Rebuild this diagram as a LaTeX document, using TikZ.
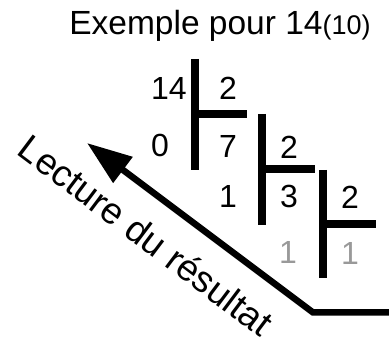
\documentclass[tikz,border=0pt]{standalone}
\usepackage{fontspec}
\setmainfont{Liberation Sans}
\usetikzlibrary{arrows.meta}

\begin{document}
\begin{tikzpicture}[
        x=1pt, y=-1pt,
        digit/.style={inner sep=0pt, font=\fontsize{32}{32}\selectfont},
        rest/.style={digit, text=black!40},
        bar/.style={line width=8pt},
        reading/.style={line width=6.5pt, -{Triangle[length=45pt,width=31pt]}},
    ]
        \useasboundingbox (0,0) rectangle (389,347);

        % title
        \node[anchor=base, inner sep=0pt, font=\fontsize{33.5}{33.5}\selectfont] (title) at (220,35)
            {Exemple pour 14{\fontsize{27}{27}\selectfont(10)}};

        % first division
        \node[digit] (num14) at (169,88) {14};
        \node[digit] (div1) at (228,88) {2};
        \node[digit] (rest0) at (160,145) {0};
        \node[digit] (quot7) at (228,146) {7};
        \draw[bar] (195,59) -- (195,170);
        \draw[bar] (195,114.5) -- (247,114.5);

        % second division
        \node[digit] (div2) at (289,147) {2};
        \node[digit] (rest1) at (228,196) {1};
        \node[digit] (quot3) at (289,196) {3};
        \draw[bar] (262,114) -- (262,225);
        \draw[bar] (262,169.5) -- (315,169.5);

        % third division
        \node[digit] (div3) at (350,197) {2};
        \node[rest] (rest1b) at (288,252) {1};
        \node[rest] (quot1) at (350,253) {1};
        \draw[bar] (323,170) -- (323,278);
        \draw[bar] (323,224.5) -- (376,224.5);

        % reading arrow
        \coordinate (start) at (389,312.5);
        \coordinate (bend) at (313,312.5);
        \coordinate (tip) at (87,143);
        \draw[reading] (start) -- (bend) -- (tip);
        \node[anchor=base, rotate=-37, inner sep=0pt, font=\fontsize{37}{37}\selectfont] (label) at (138,246)
            {Lecture du résultat};
    \end{tikzpicture}
\end{document}
